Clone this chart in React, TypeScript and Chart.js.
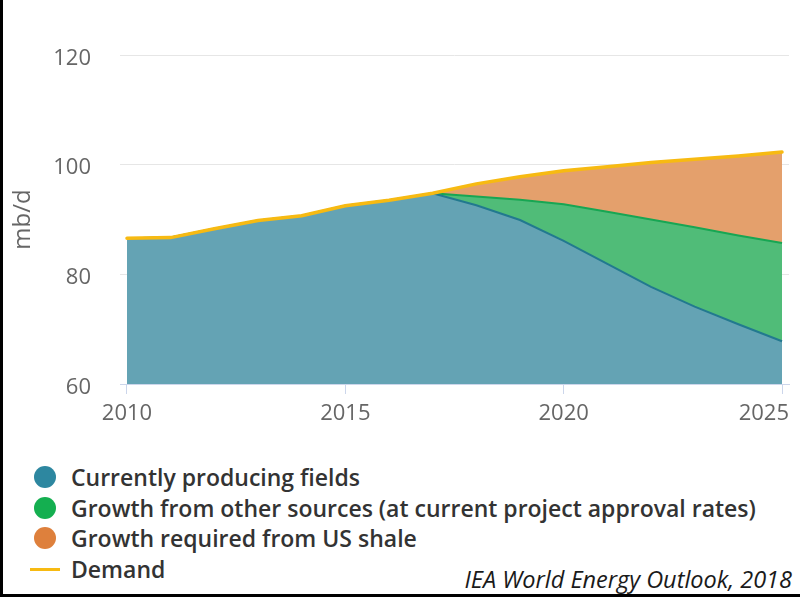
import React, { useEffect, useRef } from "react";
import { Chart, registerables } from "chart.js";

Chart.register(...registerables);

// Oil supply vs. demand outlook, million barrels per day
const years = [2010, 2011, 2012, 2013, 2014, 2015, 2016, 2017, 2018, 2019, 2020, 2021, 2022, 2023, 2024, 2025];
const currentFields = [86.6, 86.7, 88.3, 89.8, 90.7, 92.5, 93.5, 94.8, 92.6, 89.9, 86.1, 81.9, 77.7, 74.1, 70.9, 67.8];
const otherSources = [0, 0, 0, 0, 0, 0, 0, 0, 1.6, 3.7, 6.7, 9.5, 12.3, 14.5, 16.2, 17.9];
const usShale = [0, 0, 0, 0, 0, 0, 0, 0, 2.3, 4.2, 6.1, 8.2, 10.4, 12.4, 14.5, 16.6];
const demand = [86.6, 86.7, 88.3, 89.8, 90.7, 92.5, 93.5, 94.8, 96.5, 97.8, 98.9, 99.6, 100.4, 101.0, 101.6, 102.3];

const xTickYears = [2010, 2015, 2020, 2025];
const yTickValues = [60, 80, 100, 120];
const yAxisTitle = "mb/d";

const seriesNames = [
  "Currently producing fields",
  "Growth from other sources (at current project approval rates)",
  "Growth required from US shale",
  "Demand",
];
const sourceNote = "IEA World Energy Outlook, 2018";

const COLORS = {
  current: { marker: "#2D87A0", fill: "#64A3B4", line: "#22798F" },
  other: { marker: "#14AF50", fill: "#50BC78", line: "#17A653" },
  shale: { marker: "#DE803C", fill: "#E4A06C" },
  demand: "#F7BA12",
};

const FONT = "'Open Sans', 'DejaVu Sans', sans-serif";
const TICK_COLOR = "#666666";

// Axis tick labels drawn by hand: years kept inside the plot width,
// values right-aligned next to the grid lines
const tickLabelPlugin = {
  id: "axisTickLabels",
  afterDraw(chart: any) {
    const { ctx, chartArea } = chart;
    const xs = chart.scales.x;
    const ys = chart.scales.y;
    ctx.save();
    ctx.font = `22px ${FONT}`;
    ctx.fillStyle = TICK_COLOR;
    ctx.textBaseline = "middle";

    ctx.textAlign = "left";
    xTickYears.forEach((yr) => {
      const label = String(yr);
      const w = ctx.measureText(label).width;
      let left = xs.getPixelForValue(yr) - w / 2;
      if (left + w > chartArea.right) left = chartArea.right - w;
      if (left < 0) left = 0;
      ctx.fillText(label, left, xs.top + 30);
    });

    ctx.textAlign = "right";
    yTickValues.forEach((v) => {
      ctx.fillText(String(v), chartArea.left - 29, ys.getPixelForValue(v) + 3.5);
    });
    ctx.restore();
  },
};

function OilChart() {
  const canvasRef = useRef<HTMLCanvasElement | null>(null);

  useEffect(() => {
    if (!canvasRef.current) return;
    const pts = (vals: number[]) => vals.map((v, i) => ({ x: years[i], y: v }));
    const greenTop = currentFields.map((v, i) => v + otherSources[i]);
    const orangeTop = greenTop.map((v, i) => v + usShale[i]);

    const chart = new Chart(canvasRef.current, {
      type: "line",
      data: {
        datasets: [
          {
            label: seriesNames[0],
            data: pts(currentFields),
            fill: "start",
            backgroundColor: COLORS.current.fill,
            borderColor: COLORS.current.line,
            borderWidth: 2,
            pointRadius: 0,
            tension: 0,
            order: 0,
          },
          {
            label: seriesNames[1],
            data: pts(greenTop),
            fill: "-1",
            backgroundColor: COLORS.other.fill,
            borderColor: COLORS.other.line,
            borderWidth: 2,
            pointRadius: 0,
            tension: 0,
            order: 1,
          },
          {
            label: seriesNames[2],
            data: pts(orangeTop),
            fill: "-1",
            backgroundColor: COLORS.shale.fill,
            borderColor: COLORS.shale.fill,
            borderWidth: 0,
            pointRadius: 0,
            tension: 0,
            order: 2,
          },
          {
            label: seriesNames[3],
            data: pts(demand),
            fill: false,
            borderColor: COLORS.demand,
            borderWidth: 3.5,
            pointRadius: 0,
            tension: 0,
            order: -1,
            borderCapStyle: "round",
          },
        ],
      },
      options: {
        animation: false,
        responsive: false,
        devicePixelRatio: 1,
        layout: { padding: { top: 55, right: 11, left: 0, bottom: 0 } },
        plugins: { legend: { display: false }, tooltip: { enabled: false } },
        scales: {
          x: {
            type: "linear",
            min: 2009.84,
            max: 2025.16,
            afterBuildTicks: (axis: any) => {
              axis.ticks = xTickYears.map((v) => ({ value: v }));
            },
            afterFit: (axis: any) => {
              axis.height = 56;
              axis.paddingLeft = 0;
              axis.paddingRight = 0;
            },
            ticks: { display: false },
            grid: {
              drawOnChartArea: false,
              drawTicks: true,
              tickLength: 10,
              color: "#ccd6eb",
              lineWidth: 1,
            },
            border: { display: true, color: "#ccd6eb", width: 1 },
          },
          y: {
            min: 60,
            max: 120,
            afterBuildTicks: (axis: any) => {
              axis.ticks = yTickValues.map((v) => ({ value: v }));
            },
            afterFit: (axis: any) => {
              axis.width = 120;
            },
            ticks: { display: false },
            grid: {
              drawTicks: false,
              color: (c: any) => (c.tick && c.tick.value === 60 ? "rgba(0,0,0,0)" : "#e6e6e6"),
              lineWidth: 1,
            },
            border: { display: false },
            title: {
              display: true,
              text: yAxisTitle,
              color: TICK_COLOR,
              font: { family: FONT, size: 24 },
              padding: { top: 9, bottom: 0 },
            },
          },
        },
      },
      plugins: [tickLabelPlugin],
    } as any);

    return () => chart.destroy();
  }, []);

  return <canvas ref={canvasRef} width={800} height={440} style={{ position: "absolute", left: 0, top: 0 }} />;
}

const legendMarkers = [
  { kind: "dot", color: COLORS.current.marker },
  { kind: "dot", color: COLORS.other.marker },
  { kind: "dot", color: COLORS.shale.marker },
  { kind: "line", color: COLORS.demand },
];
const legendRowY = [477, 507.5, 538, 569];

export default function App() {
  return (
    <div
      style={{
        position: "absolute",
        left: 0,
        top: 0,
        width: 800,
        height: 600,
        background: "#ffffff",
        overflow: "hidden",
        fontFamily: FONT,
      }}
    >
      <OilChart />
      {legendMarkers.map((m, i) => {
        const cy = legendRowY[i];
        return (
          <React.Fragment key={i}>
            {m.kind === "dot" ? (
              <div
                style={{
                  position: "absolute",
                  left: 34,
                  top: cy - 11,
                  width: 22,
                  height: 22,
                  borderRadius: "50%",
                  background: m.color,
                }}
              />
            ) : (
              <div
                style={{
                  position: "absolute",
                  left: 30,
                  top: cy - 1.5,
                  width: 30,
                  height: 3,
                  background: m.color,
                }}
              />
            )}
            <div
              style={{
                position: "absolute",
                left: 71,
                top: cy - 15,
                height: 30,
                lineHeight: "30px",
                fontSize: 23,
                fontWeight: 600,
                color: "#333333",
                whiteSpace: "nowrap",
              }}
            >
              {seriesNames[i]}
            </div>
          </React.Fragment>
        );
      })}
      <div
        style={{
          position: "absolute",
          right: 8,
          top: 579 - 15,
          height: 30,
          lineHeight: "30px",
          fontSize: 23.5,
          fontStyle: "italic",
          color: "#1a1a1a",
          whiteSpace: "nowrap",
        }}
      >
        {sourceNote}
      </div>
      {/* frame lines on the left and bottom edges */}
      <div style={{ position: "absolute", left: 0, top: 0, width: 3, height: 597, background: "#000" }} />
      <div style={{ position: "absolute", left: 0, top: 594, width: 800, height: 3, background: "#000" }} />
    </div>
  );
}
